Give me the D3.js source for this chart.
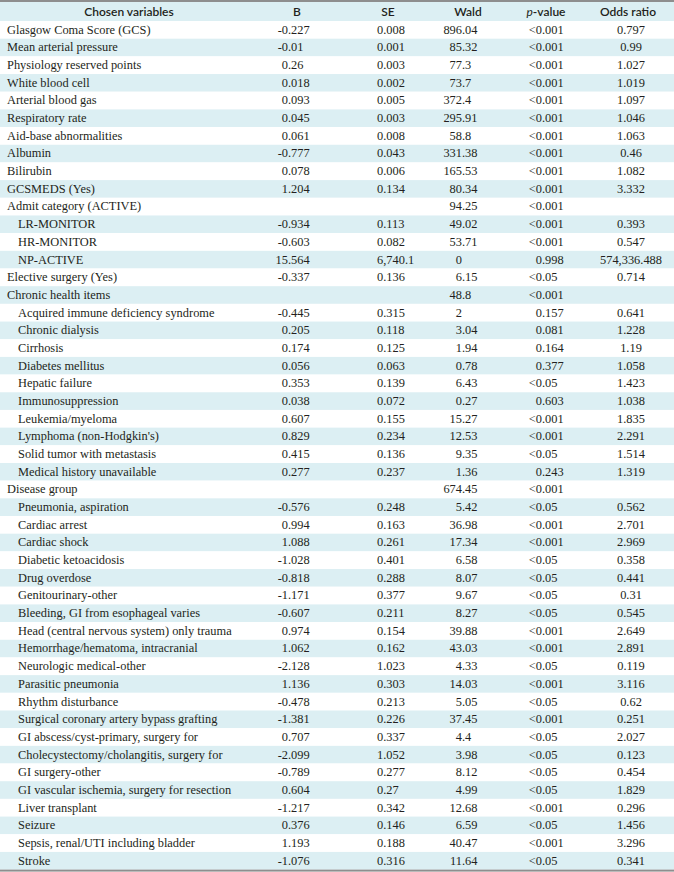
<!DOCTYPE html>
<html><head><meta charset="utf-8">
<script src="https://cdn.jsdelivr.net/npm/d3@7"></script>
<style>html,body{margin:0;padding:0;background:#fff}svg{display:block}</style>
</head><body><svg id="chart"></svg>
<script>
const headers = ["Chosen variables", "B", "SE", "Wald", "p-value", "Odds ratio"];
const variables = [
  "Glasgow Coma Score (GCS)", "Mean arterial pressure", "Physiology reserved points", "White blood cell",
  "Arterial blood gas", "Respiratory rate", "Aid-base abnormalities", "Albumin", "Bilirubin", "GCSMEDS (Yes)",
  "Admit category (ACTIVE)", "LR-MONITOR", "HR-MONITOR", "NP-ACTIVE", "Elective surgery (Yes)",
  "Chronic health items", "Acquired immune deficiency syndrome", "Chronic dialysis", "Cirrhosis",
  "Diabetes mellitus", "Hepatic failure", "Immunosuppression", "Leukemia/myeloma", "Lymphoma (non-Hodgkin's)",
  "Solid tumor with metastasis", "Medical history unavailable", "Disease group", "Pneumonia, aspiration",
  "Cardiac arrest", "Cardiac shock", "Diabetic ketoacidosis", "Drug overdose", "Genitourinary-other",
  "Bleeding, GI from esophageal varies", "Head (central nervous system) only trauma",
  "Hemorrhage/hematoma, intracranial", "Neurologic medical-other", "Parasitic pneumonia", "Rhythm disturbance",
  "Surgical coronary artery bypass grafting", "GI abscess/cyst-primary, surgery for",
  "Cholecystectomy/cholangitis, surgery for", "GI surgery-other", "GI vascular ischemia, surgery for resection",
  "Liver transplant", "Seizure", "Sepsis, renal/UTI including bladder", "Stroke"
];
// hierarchy level: 0 = main variable / group header, 1 = sub-item of a group
const level = [
  0,0,0,0,0,0,0,0,0,0,
  0,1,1,1,0,
  0,1,1,1,1,1,1,1,1,1,1,
  0,1,1,1,1,1,1,1,1,1,1,1,1,1,1,1,1,1,1,1,1,1
];
const bValues = [
  "-0.227","-0.01","0.26","0.018","0.093","0.045","0.061","-0.777","0.078","1.204",
  "","-0.934","-0.603","15.564","-0.337",
  "","-0.445","0.205","0.174","0.056","0.353","0.038","0.607","0.829","0.415","0.277",
  "","-0.576","0.994","1.088","-1.028","-0.818","-1.171","-0.607","0.974","1.062","-2.128","1.136","-0.478",
  "-1.381","0.707","-2.099","-0.789","0.604","-1.217","0.376","1.193","-1.076"
];
const seValues = [
  "0.008","0.001","0.003","0.002","0.005","0.003","0.008","0.043","0.006","0.134",
  "","0.113","0.082","6,740.1","0.136",
  "","0.315","0.118","0.125","0.063","0.139","0.072","0.155","0.234","0.136","0.237",
  "","0.248","0.163","0.261","0.401","0.288","0.377","0.211","0.154","0.162","1.023","0.303","0.213",
  "0.226","0.337","1.052","0.277","0.27","0.342","0.146","0.188","0.316"
];
const waldValues = [
  "896.04","85.32","77.3","73.7","372.4","295.91","58.8","331.38","165.53","80.34",
  "94.25","49.02","53.71","0","6.15",
  "48.8","2","3.04","1.94","0.78","6.43","0.27","15.27","12.53","9.35","1.36",
  "674.45","5.42","36.98","17.34","6.58","8.07","9.67","8.27","39.88","43.03","4.33","14.03","5.05",
  "37.45","4.4","3.98","8.12","4.99","12.68","6.59","40.47","11.64"
];
const pValues = [
  "<0.001","<0.001","<0.001","<0.001","<0.001","<0.001","<0.001","<0.001","<0.001","<0.001",
  "<0.001","<0.001","<0.001","0.998","<0.05",
  "<0.001","0.157","0.081","0.164","0.377","<0.05","0.603","<0.001","<0.001","<0.05","0.243",
  "<0.001","<0.05","<0.001","<0.001","<0.05","<0.05","<0.05","<0.05","<0.001","<0.001","<0.05","<0.001","<0.05",
  "<0.001","<0.05","<0.05","<0.05","<0.05","<0.001","<0.05","<0.001","<0.05"
];
const oddsRatios = [
  "0.797","0.99","1.027","1.019","1.097","1.046","1.063","0.46","1.082","3.332",
  "","0.393","0.547","574,336.488","0.714",
  "","0.641","1.228","1.19","1.058","1.423","1.038","1.835","2.291","1.514","1.319",
  "","0.562","2.701","2.969","0.358","0.441","0.31","0.545","2.649","2.891","0.119","3.116","0.62",
  "0.251","2.027","0.123","0.454","1.829","0.296","1.456","3.296","0.341"
];

const W = 674, H = 872;
const svg = d3.select("#chart").attr("width", W).attr("height", H);

const shade = "#dceff3";
const textColor = "#231f20";
const serif = "'Liberation Serif','Times New Roman',serif";
const sans = "Lato,'Liberation Sans',Arial,sans-serif";

const headerTop = 2, headerBottom = 21, tableBottom = 869.6;
const n = variables.length;
const y = d3.scaleBand().domain(d3.range(n)).range([headerBottom, tableBottom]).padding(0);

// column anchors
const colKeys = ["var", "b", "se", "wald", "p", "or"];
const headerX = d3.scaleOrdinal().domain(colKeys).range([129, 297, 388, 468, 546, 628]);
const cellX = d3.scaleOrdinal().domain(colKeys).range([7, 288, 377, 462, 542, 631]);
const indent = d3.scaleOrdinal().domain([0, 1]).range([0, 11]);

// header background
svg.append("rect").attr("x", 0).attr("y", headerTop).attr("width", W)
  .attr("height", headerBottom - headerTop).attr("fill", shade);

// striped rows
svg.append("g").selectAll("rect").data(d3.range(n)).join("rect")
  .attr("x", 0).attr("y", i => y(i)).attr("width", W).attr("height", y.bandwidth())
  .attr("fill", i => i % 2 === 1 ? shade : "#fff");

// rules
svg.append("rect").attr("x", 0).attr("y", 0).attr("width", W).attr("height", 2).attr("fill", "#8e8e8e");
svg.append("rect").attr("x", 0).attr("y", tableBottom).attr("width", W).attr("height", 2).attr("fill", "#8e8e8e");

// header text
const hg = svg.append("g").attr("font-family", sans).attr("font-size", 12).attr("font-weight", 600)
  .attr("fill", textColor).attr("text-anchor", "middle");
headers.forEach((h, j) => {
  const t = hg.append("text").attr("x", headerX(colKeys[j])).attr("y", 16);
  if (h.startsWith("p-")) {
    t.append("tspan").attr("font-style", "italic").attr("font-weight", 400).text("p");
    t.append("tspan").text(h.slice(1));
  } else t.text(h);
});

const body = svg.append("g").attr("font-family", serif).attr("font-size", 12.4).attr("fill", textColor);
const baseline = i => y(i) + 12.7;

// variable names
body.append("g").selectAll("text").data(d3.range(n)).join("text")
  .attr("x", i => cellX("var") + indent(level[i])).attr("y", baseline)
  .text(i => variables[i]);

// decimal-aligned columns
function decimalColumn(values, key) {
  const g = body.append("g");
  values.forEach((v, i) => {
    if (!v) return;
    const k = v.indexOf(".");
    const intPart = k < 0 ? v : v.slice(0, k);
    const frac = k < 0 ? "" : v.slice(k);
    g.append("text").attr("x", cellX(key)).attr("y", baseline(i)).attr("text-anchor", "end").text(intPart);
    if (frac) g.append("text").attr("x", cellX(key)).attr("y", baseline(i)).attr("text-anchor", "start").text(frac);
  });
}
decimalColumn(bValues, "b");
decimalColumn(waldValues, "wald");
decimalColumn(pValues, "p");

// left-aligned SE
body.append("g").selectAll("text").data(d3.range(n).filter(i => seValues[i])).join("text")
  .attr("x", cellX("se")).attr("y", baseline).text(i => seValues[i]);

// centered odds ratio
body.append("g").selectAll("text").data(d3.range(n).filter(i => oddsRatios[i])).join("text")
  .attr("x", cellX("or")).attr("y", baseline).attr("text-anchor", "middle").text(i => oddsRatios[i]);
</script>
</body></html>
